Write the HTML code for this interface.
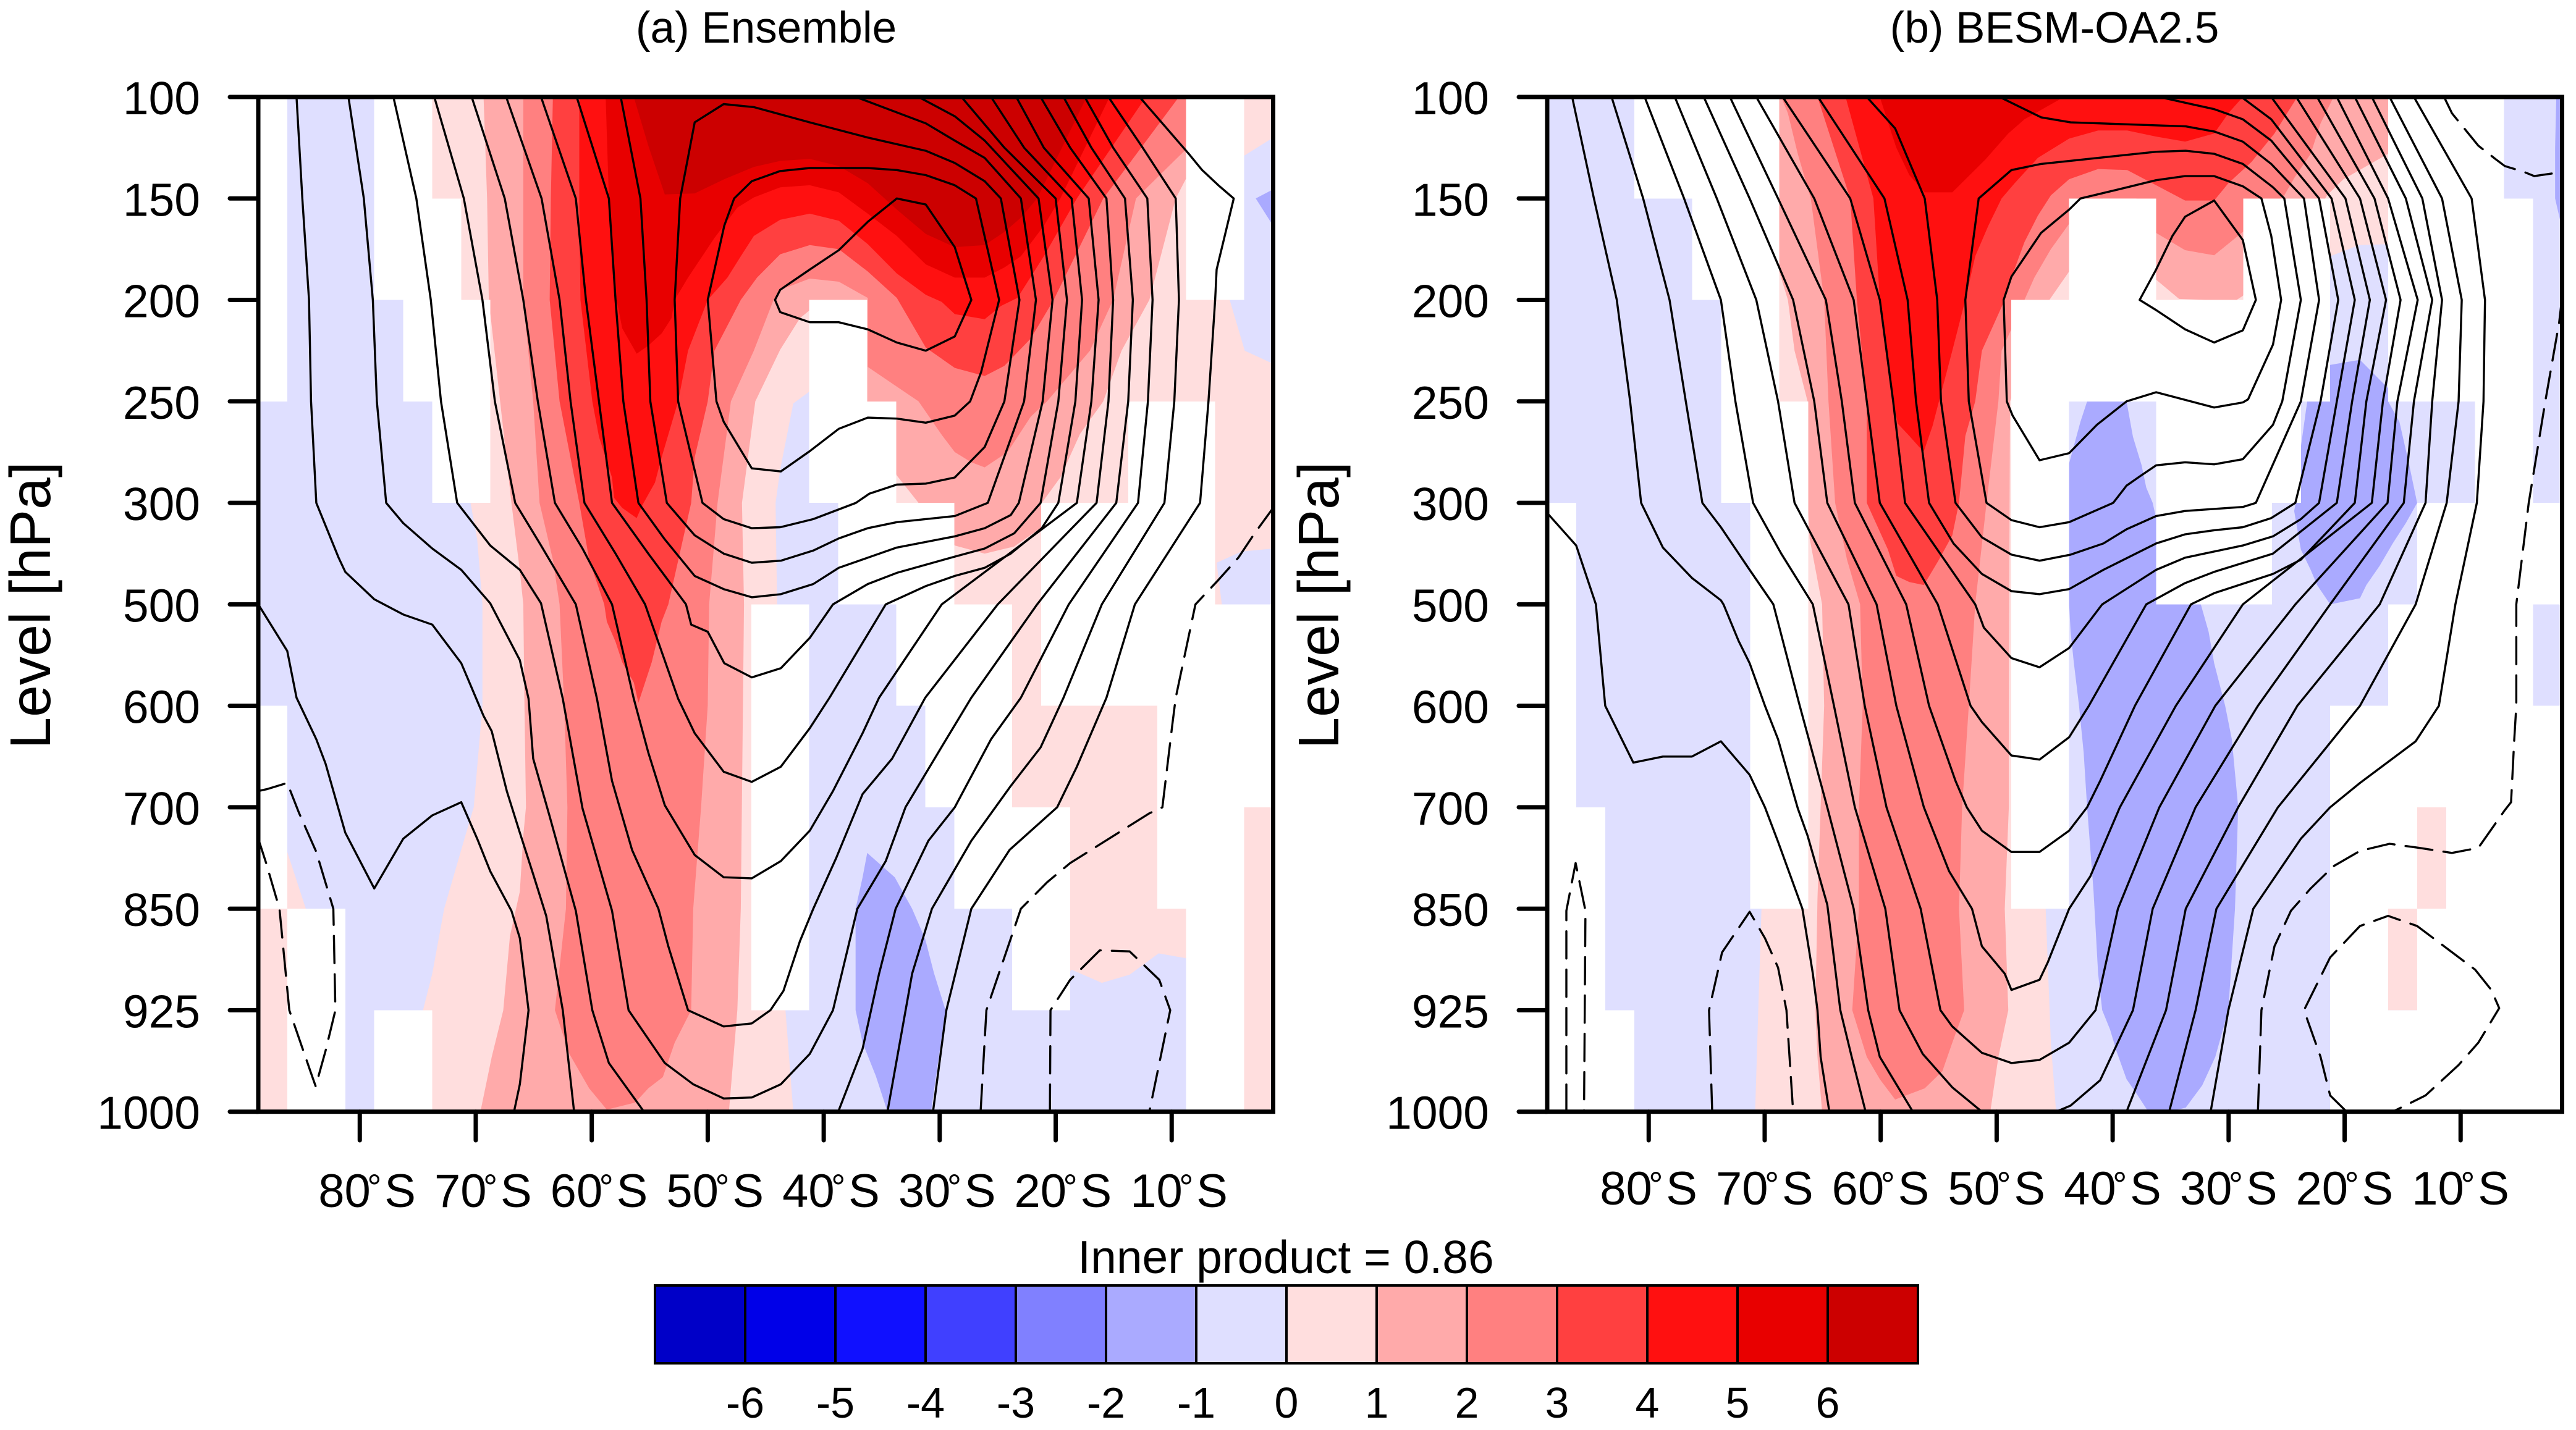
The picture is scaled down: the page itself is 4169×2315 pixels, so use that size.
<!DOCTYPE html>
<html lang="en">
<head>
<meta charset="utf-8">
<title>Inner product cross sections</title>
<style>
html,body{margin:0;padding:0;background:#fff;}
svg{display:block;}
text{font-family:"Liberation Sans",sans-serif;fill:#000;}
</style>
</head>
<body>
<svg id="fig" xmlns="http://www.w3.org/2000/svg" width="4169" height="2315" viewBox="0 0 4169 2315">
<rect x="0" y="0" width="4169" height="2315" fill="#fff"/>
<text x="1240" y="69" font-size="71" text-anchor="middle">(a) Ensemble</text>
<text x="3325" y="69" font-size="71" text-anchor="middle">(b) BESM-OA2.5</text>
<text transform="translate(81 980) rotate(-90)" font-size="93" text-anchor="middle">Level [hPa]</text>
<text transform="translate(2166 980) rotate(-90)" font-size="93" text-anchor="middle">Level [hPa]</text>
<text x="2081" y="2061" font-size="75" text-anchor="middle">Inner product = 0.86</text>
</svg>
<script>
// Axis categories and tick labels
const levelLabels = ["100","150","200","250","300","500","600","700","850","925","1000"];
const tickLats = [-80,-70,-60,-50,-40,-30,-20,-10];
const tickLatLabels = ["80","70","60","50","40","30","20","10"];
const colorbarLabels = ["-6","-5","-4","-3","-2","-1","0","1","2","3","4","5","6"];
const colorbarColors = ["#0000c8","#0000e8","#1010ff","#4040ff","#8080ff","#aaaaff","#dfdfff","#ffdede","#ffaaaa","#ff8080","#ff4040","#ff1010","#e80000","#cc0000"];

// Shaded bands. Each: [lower bound of band, [gridColumn, levelIndex, ...]]
// gridColumn n is latitude -88.75 + 2.5 n; levelIndex indexes levelLabels.
const bandsA = [
[0,[5.5,0,5.9,1,6.9,1.05,6.9,2,7.3,3,7.32,4,7.55,4.36,7.73,5,7.73,6,7.43,7,7.14,7.28,6.41,8,6,8.64,5.68,9,5.27,10,18.45,10,18.18,9,18,8,17.89,6,17.89,5,17.84,4,18,3.67,18.45,3.02,19.02,2.9,20.27,3,20.27,4.1,22.2,5,23.11,5,23.11,6,24.14,7,26.18,8,27.09,8.9,28.05,8.6,29.09,8.73,30.05,8.65,31.05,8.44,32.05,8.49,33.68,8.5,33.91,10,35,10,35,6.5,34.36,5.5,33.23,5,33.05,4.59,33.91,4.48,35,4.45,35,2.63,34.02,2.5,33.5,2,33.23,1.5,33.23,.7,34.05,.57,35,.4,35,0]],
[0,[0,6.9,1,7.44,1.64,8,1.64,10,0,10]],
[1,[7.77,0,7.89,1,7.95,2,8.34,3,8.73,4,9.02,4.67,9.14,5,9.18,6,9.23,7,9.14,7.28,9.02,7.83,8.68,8.27,8.45,9,8.05,9.46,7.66,10,16.23,10,16.52,9,16.64,8,16.75,5,16.68,4,17.14,3,18,2.49,18.68,2.18,19.02,2.1,20.05,2.6,21.64,3.5,22.02,3.73,22.77,4,23.45,4.2,24.02,4.42,25.05,4.5,26.07,4.43,27.02,4.24,27.02,4,27.66,3.75,28.34,3.32,29.14,3,29.77,2.5,30.73,2,31.64,1,32.55,.5,33.23,0]],
[2,[9.14,0,9.14,1,9.14,2,9.48,3,9.7,4,10.16,4.56,10.39,5,10.55,6,10.66,7,10.61,8,10.23,9,10.73,9.43,11.07,9.6,11.41,9.77,12.02,9.98,13,9.91,13.45,9.77,13.95,9.66,14.36,9.32,14.93,9,15,8,15.27,7,15.5,6,15.55,5,15.84,4,16.3,3,17.09,2.5,17.43,2.25,17.77,2,18,1.9,19.02,1.79,20.02,1.82,21.02,1.98,21.02,2.66,22.77,3,23.57,3.33,24.02,3.5,24.59,3.6,25.05,3.65,25.84,3.5,26.64,3.15,27.2,3,28.68,2.5,29.48,2,30.27,1,32.05,.5,32.55,0]],
[3,[10.16,0,10.09,1,10.05,2,10.39,3,11.07,4,11.41,4.56,11.93,5,12.02,5.17,12.32,5.37,12.55,5.57,12.95,5.77,13.11,5.97,13.57,5.57,13.91,5.17,14.14,5,14.48,4.57,14.93,4,15.05,3.55,15.5,3,15.73,2.5,16.64,2,17.2,1.78,18,1.55,19.02,1.46,20.02,1.5,21.02,1.72,22.02,1.98,23.02,2.47,24.02,2.67,25.05,2.75,25.73,2.65,26.64,2.38,27.43,2,29.14,1,31.75,0]],
[4,[11.07,0,11.07,1,11.11,2,11.52,3,11.75,3.35,12.2,3.75,12.27,3.95,12.55,4.05,13.05,4.15,13.23,4.03,13.68,3.8,13.91,3.55,14.48,3,14.82,2.5,15.5,2,16.18,1.78,16.64,1.57,17.09,1.37,18,1.21,19.02,1.15,20.02,1.22,21.02,1.45,22.02,1.74,23.02,1.95,23.57,2.02,24.02,2.14,25.05,2.19,25.61,2.06,26.18,1.98,27.09,1.57,28.23,1,30.61,0]],
[5,[11.98,0,12.09,1,12.36,2,12.55,2.28,13.05,2.53,13.45,2.45,13.91,2.33,14.25,2.18,14.36,2,14.82,1.78,15.73,1.39,16.52,1.09,17.09,.99,18,.89,19.02,.87,20.02,.94,21.02,1.15,22.02,1.37,23.02,1.65,24.02,1.78,25.05,1.78,25.73,1.68,26.3,1.57,27.09,1.27,27.66,1,29.36,0]],
[6,[12.95,0,13.45,.48,14.02,.96,15.05,.95,16.07,.81,17.09,.69,18,.63,19.02,.61,20.02,.68,21.02,.85,22.02,1.11,23.02,1.35,24.02,1.48,25.05,1.46,25.73,1.33,26.3,1.19,26.86,1,28.57,0]],
[-2,[21,7.45,21.95,7.69,22.55,8,23,8.3,23.3,8.63,23.7,9,23.2,10,21.7,10,21.3,9.65,20.84,9.32,20.6,9,20.6,8,20.84,7.69]],
[-2,[35,.91,34.4,1,35,1.27]]
];
const bandsB = [
[0,[7.62,0,7.62,7,7.39,8,7.28,9,7.17,10,17.55,10,17.37,9.32,17.19,8,16.92,7,16.92,2.02,26.89,2.02,26.89,1.6,27,1.57,28,1.46,29,1.45,29.39,1.45,29.39,0]],
[0,[29,7,31,7,31,9,29,9]],
[1,[7.62,0,7.98,1.7,8.3,2,8.53,2.5,8.98,3,8.98,4,9.05,4.35,9.48,5,9.55,6,9.43,7,9.32,7.9,9.25,9,9.32,9.46,9.48,10,15.28,10,15.56,9.46,15.9,9,15.78,8,15.92,7,15.92,6,15.96,3,17.32,2,18,1.72,19.18,1.2,20.32,1.5,21,1.8,21.79,1.99,23.72,2.01,23.99,1.96,24.85,1.6,26.44,1.2,26.89,.97,27.46,.81,29,.56,29.39,.56,29.39,0]],
[2,[8.07,0,8.3,.16,8.64,.56,9.09,1,9.55,2,9.7,3,9.93,4,10.34,4.56,10.79,5,10.88,6,10.75,7,10.75,8,10.52,9,11.02,9.46,11.47,9.68,12,9.88,13.02,9.77,13.63,9.6,13.97,9.32,14.38,9,14.2,8,14.31,7,14.54,6,14.76,5,15.15,4,15.56,3,15.67,2.5,16.46,2,16.8,1.78,17.37,1.5,18,1.25,19.18,1,20.32,1,21,1.34,22,1.51,23,1.56,23.99,1.33,24.85,1.1,25.42,.97,25.76,.8,26.33,.56,26.67,.26,27.12,0]],
[3,[9.32,0,10.45,1,10.68,2,11.02,3,11.02,4,11.75,4.46,12.04,4.72,12.49,4.78,12.99,4.81,13.51,4.56,13.97,4.32,14.2,4,14.42,3.34,14.76,3,14.99,2.5,15.78,2,16.01,1.78,16.46,1.43,16.92,1.17,17.37,.97,18,.81,19,.71,20,.72,21,.87,22,1.02,23,1.02,23.49,.85,24.29,.64,25.08,.36,25.87,0]],
[4,[10.29,0,11.25,1,11.47,2,11.93,3,12.09,3.22,12.49,3.34,12.83,3.45,12.99,3.49,13.29,3.24,13.51,3,13.97,2.5,14.42,2,14.76,1.57,15.21,1.27,15.67,1,16.12,.85,16.92,.6,18,.41,19,.33,20,.33,21,.39,22,.44,23,.36,23.49,.16,23.99,0]],
[5,[11.47,0,11.81,.3,12.04,.5,12.49,.77,13.02,.94,13.97,.94,15.1,.62,15.9,.36,16.46,.22,17.82,0]],
[-2,[18.62,2.9,19.98,2.9,19.98,3,20.2,3.35,20.5,3.63,20.66,3.85,20.88,4,21,4.15,22.36,4.9,22.54,5,22.81,5.27,23,5.58,23.38,6,23.61,6.33,23.83,7,23.72,8,23.49,9,23.04,9.46,22.59,9.74,22.02,9.96,21.45,10,20.73,10,20.32,9.82,19.98,9.68,19.64,9.41,19.41,9.19,19.14,9,19,8.64,18.84,7.82,18.62,7,18.5,6.46,18.34,6,18.16,5.57,18.05,5.27,18,5,18,3.61,18.39,3.2,18.62,3]],
[-2,[27,2.64,28.03,2.59,29,2.87,29,3,29.39,3.2,29.73,3.63,30,4,29.61,4.2,29.16,4.4,28.71,4.62,28.25,4.81,28.03,4.94,27,5,26.55,4.81,26.33,4.66,25.99,4.46,25.87,4.26,25.76,4.08,25.87,3.91,25.99,3.71,25.99,3.45,26.21,3,26.3,2.9,26.89,2.7]],
[-2,[34.8,0,34.76,.5,34.76,1,35,1.3,35,0]]
];

// Cells left unshaded, one list of grid columns per level interval
const maskA = [
[0,4,5,32,33],
[0,4,5,6,32,33],
[0,5,6,7,19,20],
[6,7,19,20,21,30,31,32],
[20,21,22,23,27,28,29,30,31,32],
[17,18,22,23,24,25,27,28,29,30,31,32,33,34],
[0,17,18,23,24,25,31,32,33,34],
[0,17,18,24,25,26,27,31,32,33],
[1,2,17,18,26,27,32,33],
[1,2,4,5,32,33]
];
const maskB = [
[3,4,5,6,7,29,30,31,32],
[5,6,7,18,19,20,24,25,26,29,30,31,32,33],
[6,7,16,17,18,19,20,21,22,23,24,25,26,29,30,31,32,33],
[6,7,8,16,17,21,22,23,24,25,32,33],
[0,7,8,16,17,21,22,23,24,30,31,32,33,34],
[0,7,8,16,17,29,30,31,32,33],
[0,7,8,16,17,27,28,29,30,31,32,33,34],
[0,1,7,8,16,17,27,28,29,31,32,33,34],
[0,1,27,28,30,31,32,33,34],
[0,1,2,27,28,29,30,31,32,33,34]
];

// Contour lines. Each: [contour level, [gridColumn, levelIndex, ...]]; negative levels dash.
const contoursA = [
[-1,[0,6.84,.32,6.82,1,6.76,1.41,7.06,2,7.44,2.59,8,2.66,9,2.32,9.4,1.98,9.75,1.82,9.62,1.07,9,.73,8,.27,7.55,0,7.31]],
[-1,[24.91,10,25.11,9,26.3,8,27.2,7.74,28,7.55,30.73,7.06,31.18,7,31.52,6.19,31.64,5.92,32.32,5,33.11,4.76,33.8,4.54,34.36,4.3,35,4.05]],
[-2,[27.3,10,27.32,9,28,8.7,29.02,8.41,30.05,8.42,31.07,8.7,31.45,9,30.73,10]],
[0,[0,5,1,5.46,1.32,5.92,2,6.33,2.32,6.57,3,7.25,4,7.8,5,7.31,6,7.08,7,6.95,7.55,7.31,8,7.63,8.73,8.02,9.02,8.29,9.32,9,9.02,9.73,8.82,10]],
[0,[23.27,10,23.73,9,24.59,8,25.91,7.42,27.55,7,28.23,6.6,29.25,5.92,30.23,5,32.48,4,32.77,3,33,2,33.05,1.7,33.64,1,33.11,.87,32.55,.72,32.09,.56,31.3,.3,30.39,0]],
[1,[1.32,0,1.52,1,1.75,2,1.82,3,2,4,2.77,4.54,3,4.68,4,4.95,5,5.1,6,5.2,7,5.58,7.77,6.1,8.05,6.25,8.57,6.84,9.02,7.25,9.48,7.66,9.93,8.07,10.5,9,10.89,10]],
[1,[21.7,10,22.55,8.64,23.23,8,24.59,7.33,25.95,6.79,26.98,6.41,27.77,5.92,29.09,5,31.25,4,31.59,3,31.75,2,31.64,1,30.5,.5,29.32,0]],
[2,[3.11,0,3.64,1,3.95,2,4.09,3,4.41,4,5,4.2,6,4.45,7,4.66,8,4.99,9.02,5.55,9.32,5.93,9.48,6.52,10.05,7.09,10.95,8.02,11.52,9,12.09,9.52,13.3,10]],
[2,[20,10,20.84,9.38,21.41,8.64,21.98,8,23.11,7.33,24.02,7,25.27,6.33,26.3,5.92,27.95,5,30.34,4,30.68,3,30.84,2,30.66,1,29.48,.5,28.5,0]],
[3,[4.66,0,5.45,1,5.95,2,6.3,3,6.86,4,8,4.42,9.02,4.66,9.75,4.99,10.5,5.93,11.18,7.01,12.2,8.02,12.77,9,14.02,9.52,15,9.73,16.05,9.87,17.02,9.86,18.02,9.73,19.02,9.43,19.82,9,20.66,8,21.64,7.53,22.32,7,23.45,6.46,24.59,5.92,26.86,5,29.59,4,30,3,30.16,2,29.89,1,28.73,.5,27.77,0]],
[4,[6.07,0,7.09,1,7.73,2,8.16,3,8.86,4,9.75,4.42,10.95,5,11.68,5.93,12.2,6.74,12.89,7.42,13.8,8,14.14,8.37,14.82,9,16.05,9.16,17.02,9.13,17.66,9,18.11,8.81,18.68,8.32,19.14,8,19.93,7.5,20.84,6.87,21.86,6.52,23,5.92,25.5,5,28.91,4,29.32,3,29.48,2,29.25,1,28,.5,26.98,0]],
[5,[7.36,0,8.5,1,9.14,2,9.64,3,10.23,4,11.18,4.45,12.2,5,12.95,5.93,13.45,6.46,14.02,6.98,15.05,7.47,16.05,7.69,17.02,7.7,18.02,7.53,19.02,7.23,19.82,6.84,20.84,6.27,21.41,5.92,23.57,5,28.23,4,28.73,3,28.98,2,28.64,1,27.09,.5,26.14,0]],
[6,[8.55,0,9.77,1,10.39,2,10.77,3,11.25,4,12.32,4.5,13.34,5,14.48,5.93,15.05,6.27,16.05,6.65,17.02,6.75,18.02,6.6,19.02,6.22,19.7,5.92,21.64,5,23.02,4.82,24.02,4.72,25.05,4.64,25.95,4.5,27.02,4.25,27.59,4,28.18,3,28.41,2,28.05,1,26.41,.5,25.27,0]],
[7,[9.75,0,10.95,1,11.3,2,11.75,3,12.2,4,13.45,4.5,14.75,5,14.93,5.2,15.5,5.27,16.07,5.58,17.02,5.72,18.02,5.63,19.02,5.33,19.82,5,21.02,4.8,22.02,4.69,24.02,4.53,25.05,4.45,26.07,4.3,26.98,4,27.59,3,27.89,2,27.5,1,25.73,.5,24.25,0]],
[8,[10.98,0,12.09,1,12.32,2,12.59,3,13.11,4,14.02,4.36,15.05,4.72,16.05,4.85,17.02,4.93,18.02,4.9,19.14,4.8,20.02,4.64,21.02,4.54,22.02,4.44,24.02,4.33,25.05,4.25,25.95,4.12,26.23,4,27.05,3,27.39,2,26.91,1,25.05,.43,24.02,.19,22.77,0]],
[9,[12.5,0,13.18,1,13.39,2,13.52,3,14.09,4,15.05,4.32,16.05,4.5,17.02,4.59,18.02,4.57,19.14,4.47,20.02,4.35,21.02,4.25,22.02,4.19,24.02,4.13,25.16,4,26.41,3,26.82,2,26.3,1,25.05,.6,24.02,.43,23.02,.26,20.61,0]],
[10,[15.05,.25,14.55,1,14.36,2,14.48,3,15.32,4,16.05,4.16,17.02,4.25,18,4.24,19.14,4.16,20.61,4,21.07,3.91,22.02,3.82,23.02,3.81,24.02,3.75,25.05,3.45,25.73,3,26.25,2,25.61,1,25.05,.83,24.02,.65,23.02,.53,21.02,.4,19.02,.25,17.09,.1,16.05,.07,15.05,.25]],
[11,[15.8,3,15.5,2,16.07,1.27,16.41,1,17.02,.83,18,.73,19.02,.7,21.02,.7,22.02,.72,23.02,.77,24.02,.87,24.75,1,25.55,2,24.93,2.71,24.55,3,24.02,3.14,23.02,3.21,22.02,3.17,21.02,3.16,20.02,3.27,19.02,3.49,18.02,3.69,17.02,3.66,16.05,3.2,15.8,3]],
[12,[22.02,1,23.02,1.06,24.02,1.48,24.59,2,24.02,2.36,23.02,2.5,22.02,2.42,21.02,2.29,20.02,2.22,19.02,2.22,18,2.12,17.82,2,18,1.9,19.02,1.7,20.02,1.51,21.02,1.23,22.02,1]]
];
const contoursB = [
[-1,[24.51,10,24.63,9,25.08,8.37,25.65,8.02,26.33,7.8,27.12,7.58,28.03,7.43,29.05,7.36,30.07,7.4,31.2,7.45,32.11,7.4,33.02,7.03,33.24,6.95,33.35,6.33,33.42,6,33.42,5,33.85,4,34.42,3,34.9,2.22,34.99,2]],
[-1,[30.93,0,31.2,.16,32.11,.48,32.74,.62,33.02,.68,33.7,.74,34.04,.78,34.76,.75,34.99,.73]],
[-1,[.66,10,.66,8.02,.98,7.55,1.32,8.02,1.27,10]],
[-1,[5.69,10,5.58,9,6.03,8.43,6.98,8.03,7.51,8.29,7.96,8.58,8.25,9,8.48,10]],
[-2,[27.57,10,27,9.84,26.67,9.46,26.1,9,27,8.48,28.03,8.17,29,8.07,30,8.17,30.98,8.38,32,8.6,32.56,8.8,32.83,8.98,32.11,9.32,31.43,9.54,30.29,9.84,29.16,10]],
[0,[0,4.1,1,4.42,1.68,5,2,6,2.97,6.56,3.99,6.5,4.99,6.5,5.99,6.35,6.98,6.68,7.51,7,7.96,7.34,8.8,8,9.16,8.64,9.32,9,9.43,9.46,9.73,10]],
[0,[22.88,10,23.49,9,24.35,8,25.99,7.31,27,7,28.03,6.76,29.95,6.35,30.75,6,31.32,5,32.06,4,32.29,3,32.34,2,31.88,1,29.89,0]],
[1,[.86,0,1.61,1,2.4,2,2.86,3,3.24,4,3.99,4.44,4.99,4.74,5.99,4.96,6.08,5,6.6,5.36,6.98,5.58,7.51,6,7.96,6.33,8.64,7.01,8.98,7.28,9.66,7.96,10.11,9,10.5,9.46,10.98,10]],
[1,[21.45,10,22.36,9,23.08,8,25.2,7,28.03,6,29.95,5,31.02,4,31.43,3,31.54,2,30.86,1,29.05,0]],
[2,[2.22,0,3.31,1,4.22,2,4.78,3,5.35,4,5.99,4.24,6.98,4.66,7.8,5,8.71,6,9.66,7,10.57,8,11.07,9,11.47,9.46,12.61,10]],
[2,[19.98,10,21.34,9,22.02,8,23.83,7,25.87,6,28.71,5,30.29,4,30.52,3,30.86,2,30.18,1,28.44,0]],
[3,[3.36,0,4.72,1,5.99,2,6.49,3,7.1,4,8.07,4.5,9.16,5,9.89,6,10.61,7,11.66,8,12.15,9,12.95,9.43,13.97,9.76,14.99,10]],
[3,[17.55,10,18.05,9.94,19.07,9.69,20.2,9,20.88,8,22.36,7,24.51,6,27,5,29.54,4,29.89,3,30.52,2,29.61,1,27.85,0]],
[4,[4.4,0,5.85,1,7.21,2,7.96,3,8.53,4,10.39,5,10.95,6,11.7,7,12.88,8,13.56,9,13.97,9.16,14.99,9.42,16.01,9.52,16.98,9.49,18,9.32,18.91,9,19.68,8,21.11,7,23.04,6,25.8,5,28.98,4,29.32,3,30.02,2,29,1,27.23,0]],
[5,[5.4,0,6.98,1,8.48,2,9.21,3,9.66,4,11.36,5,12.04,6,12.99,7,13.86,7.63,14.65,8,14.99,8.37,15.78,8.64,16.01,8.8,16.98,8.7,17.26,8.53,18,8,18.73,7.68,19.75,7,21.68,6,23.99,5,28.44,4,28.82,3,29.43,2,28.53,1,26.55,0]],
[6,[6.3,0,7.96,1,9.61,2,10.16,3,10.61,4,12.38,5,13.17,6,14.08,6.74,14.47,7,14.99,7.23,16.01,7.44,16.98,7.44,18,7.23,18.62,7,19.07,6.74,20.27,6,22.2,5,23,4.89,25.03,4.7,25.99,4.56,27.85,4,28.25,3,28.93,2,28.03,1,25.83,0]],
[7,[7.21,0,9.21,1,10.57,2,11.02,3,11.47,4,13.47,5,14.6,6,14.99,6.16,16.01,6.49,16.98,6.53,18,6.31,18.68,6,20.66,5,22,4.79,23,4.68,25.03,4.5,27.23,4,27.76,3,28.37,2,27.53,1,24.97,0]],
[8,[8.12,0,10.45,1,11.47,2,11.93,3,12.34,4,14.76,5,15.06,5.23,16.01,5.53,16.98,5.62,18,5.43,19.14,5,21,4.66,22,4.54,23.99,4.42,25.03,4.33,25.99,4.16,26.62,4,27.23,3,27.85,2,27.05,1,24.97,.22,23.94,0]],
[9,[9.34,0,11.63,1,12.43,2,12.72,3,13.17,4,14.01,4.4,14.99,4.7,16.01,4.87,16.98,4.9,18,4.85,19.18,4.66,21,4.4,22,4.31,23,4.27,23.99,4.24,24.97,4.15,25.8,4,26.67,3,27.28,2,26.62,1,24.97,.43,23.99,.22,23,.12,21.11,0]],
[10,[11.02,0,12,.31,13.02,1,13.45,2,13.58,3,14.08,4,14.99,4.34,16.01,4.51,16.98,4.57,18.05,4.51,19.18,4.4,19.98,4.26,21,4.13,22,4.08,23.99,4.04,24.44,4,25.99,3,26.62,2,26.1,1,24.97,.66,23.99,.44,23,.34,22.02,.29,18.05,.25,17.03,.2,15.6,0]],
[11,[14.88,1,16.01,.72,17.03,.66,21,.54,22.02,.53,23,.56,23.99,.66,25.03,.89,25.42,1,25.99,2,25.35,3,25.03,3.23,23.99,3.57,23,3.62,22,3.6,21,3.63,20.43,3.74,19.98,3.83,19.52,4,18,4.19,16.98,4.24,16.01,4.17,15.15,4,14.54,3,14.42,2,14.88,1]],
[12,[18.39,1,20,.89,21,.82,22,.78,23,.78,23.99,.88,24.63,1,24.97,1.37,25.31,2,25.03,2.44,24.17,2.98,23.99,3.01,23,3.06,21,2.91,19.98,3,18.96,3.23,18,3.51,16.98,3.58,16.05,3.14,15.85,3,15.74,2,16.01,1.77,17.03,1.34,18,1.11,18.39,1]],
[13,[23,1.02,23.99,1.41,24.44,2,23.99,2.3,23,2.42,22,2.29,21,2.1,20.43,2,21,1.7,21.56,1.37,22,1.18,23,1.02]]
];

const NS = "http://www.w3.org/2000/svg";
const fig = document.getElementById("fig");
const TOP = 157, BOTTOM = 1799.7, PLOT_W = 1642.5;
const LAT_MIN = -88.75, DEG_PER_COL = 2.5;
const PX_PER_DEG = PLOT_W / 87.5;

function make(tag, parent, attrs) {
  const e = document.createElementNS(NS, tag);
  for (const k in attrs) e.setAttribute(k, attrs[k]);
  parent.appendChild(e);
  return e;
}
function yOfLevel(idx) { return TOP + idx * (BOTTOM - TOP) / (levelLabels.length - 1); }
function xOfLat(left, lat) { return left + (lat - LAT_MIN) * PX_PER_DEG; }
function xOfCol(left, col) { return xOfLat(left, LAT_MIN + col * DEG_PER_COL); }
function bandColor(lower) { return colorbarColors[lower + 7]; }
function pointsOf(left, flat) {
  const out = [];
  for (let i = 0; i < flat.length; i += 2) {
    out.push(xOfCol(left, flat[i]).toFixed(1) + "," + yOfLevel(flat[i + 1]).toFixed(1));
  }
  return out.join(" ");
}

function drawPanel(id, left, bands, mask, contours, labelShift, labelDrop) {
  const clipId = "clip-" + id;
  const defs = make("defs", fig, {});
  const clip = make("clipPath", defs, { id: clipId });
  make("rect", clip, { x: left, y: TOP, width: PLOT_W, height: BOTTOM - TOP });

  const plot = make("g", fig, { "clip-path": "url(#" + clipId + ")" });
  
  

  const base = make("rect", plot, { x: left, y: TOP, width: PLOT_W, height: BOTTOM - TOP, fill: bandColor(-1) });
  
  

  bands.forEach(function (b) {
    const poly = make("polygon", plot, { points: pointsOf(left, b[1]), fill: bandColor(b[0]) });
    
    
  });

  mask.forEach(function (cols, row) {
    cols.forEach(function (col) {
      const x0 = xOfCol(left, col), x1 = xOfCol(left, col + 1);
      const y0 = yOfLevel(row), y1 = yOfLevel(row + 1);
      const cell = make("rect", plot, { x: x0, y: y0, width: x1 - x0, height: y1 - y0, fill: "#fff", "shape-rendering": "crispEdges" });
      
      
    });
  });

  contours.forEach(function (c) {
    const attrs = { points: pointsOf(left, c[1]), fill: "none", stroke: "#000", "stroke-width": 3.4, "stroke-linejoin": "round", "stroke-linecap": "round" };
    if (c[0] < 0) attrs["stroke-dasharray"] = "44 18";
    const line = make("polyline", plot, attrs);
    
    
  });

  const axes = make("g", fig, { stroke: "#000", "stroke-width": 7, "stroke-linecap": "round", fill: "none" });
  
  
  const frame = make("rect", axes, { x: left, y: TOP, width: PLOT_W, height: BOTTOM - TOP });
  
  

  levelLabels.forEach(function (lab, i) {
    const y = yOfLevel(i);
    const tick = make("line", axes, { x1: left - 46, x2: left, y1: y, y2: y });
    
    
    const t = make("text", fig, { x: left - 94, y: y + 28, "font-size": 75, "text-anchor": "end" });
    
    
    t.textContent = lab;
  });

  tickLats.forEach(function (lat, i) {
    const x = xOfLat(left, lat);
    const tick = make("line", axes, { x1: x, x2: x, y1: BOTTOM, y2: 1846 });
    
    
    const base0 = 1954 - labelDrop;
    const cx = x + labelShift;
    const t = make("text", fig, { "font-size": 76 });
    
    
    const digits = make("tspan", t, { x: cx - 79, y: base0 });
    digits.textContent = tickLatLabels[i];
    const deg = make("tspan", t, { x: cx + 0, y: base0 - 12, "font-size": 58 });
    deg.textContent = "\u00B0";
    const s = make("tspan", t, { x: cx + 28, y: base0 });
    s.textContent = "S";
  });
}

drawPanel("a", 418, bandsA, maskA, contoursA, 12, 0);
drawPanel("b", 2504, bandsB, maskB, contoursB, 0, 4);

// Colour bar
const BAR_LEFT = 1060, BAR_TOP = 2081, BAR_H = 126, BOX_W = 146;
const bar = make("g", fig, {});


colorbarColors.forEach(function (col, i) {
  const box = make("rect", bar, { x: BAR_LEFT + i * BOX_W, y: BAR_TOP, width: BOX_W, height: BAR_H, fill: col, stroke: "#000", "stroke-width": 4 });
  
  
});
colorbarLabels.forEach(function (lab, i) {
  const t = make("text", bar, { x: BAR_LEFT + (i + 1) * BOX_W, y: 2295, "font-size": 70, "text-anchor": "middle" });
  
  
  t.textContent = lab;
});
</script>
</body>
</html>
